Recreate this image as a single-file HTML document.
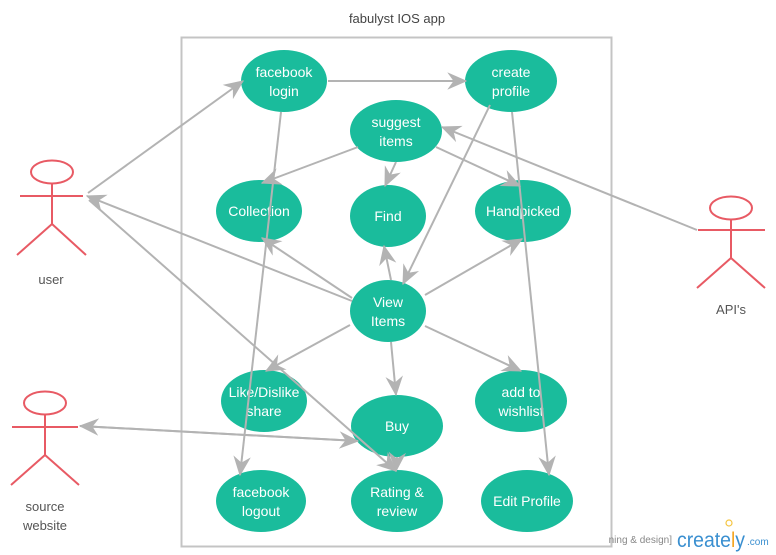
<!DOCTYPE html>
<html><head><meta charset="utf-8"><style>
html,body{margin:0;padding:0;background:#fff;}
svg{display:block;}
text{font-family:"Liberation Sans",sans-serif;}
</style></head><body>
<svg width="776" height="555" viewBox="0 0 776 555" xmlns="http://www.w3.org/2000/svg">
<defs>
<marker id="a" markerUnits="userSpaceOnUse" markerWidth="20" markerHeight="20" viewBox="0 0 16 16" refX="15" refY="8" orient="auto">
<path d="M0,1 L16,8 L0,15 L5,8 z" fill="#b3b3b3"/>
</marker>
</defs>
<text x="397" y="23" font-size="13" fill="#444" text-anchor="middle">fabulyst IOS app</text>
<rect x="181.5" y="37.5" width="430" height="509" fill="none" stroke="#c4c4c4" stroke-width="2"/>

<g fill="#1abc9c">
<ellipse cx="284" cy="81" rx="43" ry="31"/>
<ellipse cx="511" cy="81" rx="46" ry="31"/>
<ellipse cx="396" cy="131" rx="46" ry="31"/>
<ellipse cx="259" cy="211" rx="43" ry="31"/>
<ellipse cx="388" cy="216" rx="38" ry="31"/>
<ellipse cx="523" cy="211" rx="48" ry="31"/>
<ellipse cx="388" cy="311" rx="38" ry="31"/>
<ellipse cx="264" cy="401" rx="43" ry="31"/>
<ellipse cx="521" cy="401" rx="46" ry="31"/>
<ellipse cx="397" cy="426" rx="46" ry="31"/>
<ellipse cx="261" cy="501" rx="45" ry="31"/>
<ellipse cx="397" cy="501" rx="46" ry="31"/>
<ellipse cx="527" cy="501" rx="46" ry="31"/>
</g>
<g fill="#fff" font-size="14" text-anchor="middle">
<text x="284" y="77">facebook</text><text x="284" y="96">login</text>
<text x="511" y="77">create</text><text x="511" y="96">profile</text>
<text x="396" y="127">suggest</text><text x="396" y="146">items</text>
<text x="259" y="216">Collection</text>
<text x="388" y="221">Find</text>
<text x="523" y="216">Handpicked</text>
<text x="388" y="307">View</text><text x="388" y="326">Items</text>
<text x="264" y="397">Like/Dislike</text><text x="264" y="416">share</text>
<text x="521" y="397">add to</text><text x="521" y="416">wishlist</text>
<text x="397" y="431">Buy</text>
<text x="261" y="497">facebook</text><text x="261" y="516">logout</text>
<text x="397" y="497">Rating &amp;</text><text x="397" y="516">review</text>
<text x="527" y="506">Edit Profile</text>
</g>

<g stroke="#b3b3b3" stroke-width="2" fill="none" marker-end="url(#a)">
<line x1="88" y1="193" x2="243" y2="81"/>
<line x1="328" y1="81" x2="466" y2="81"/>
<line x1="358" y1="147" x2="262" y2="183"/>
<line x1="396" y1="162" x2="385" y2="186"/>
<line x1="436" y1="147" x2="520" y2="186"/>
<line x1="697" y1="230" x2="442" y2="127"/>
<line x1="490" y1="105" x2="403" y2="284"/>
<line x1="512" y1="112" x2="549" y2="475"/>
<line x1="281" y1="112" x2="240" y2="475"/>
<line x1="352" y1="298" x2="262" y2="238"/>
<line x1="352" y1="301" x2="87" y2="196"/>
<line x1="391" y1="280" x2="384" y2="246"/>
<line x1="425" y1="295" x2="522" y2="239"/>
<line x1="350" y1="325" x2="266" y2="371"/>
<line x1="391" y1="342" x2="396" y2="395"/>
<line x1="425" y1="326" x2="521" y2="371"/>
<line x1="89" y1="200" x2="396" y2="471"/>
<line x1="80" y1="426" x2="358" y2="441"/>
<line x1="358" y1="441" x2="80" y2="426"/>
<line x1="397" y1="457" x2="396" y2="471"/>
</g>

<g stroke="#e85a64" stroke-width="2" fill="none">
<ellipse cx="52" cy="172" rx="21" ry="11.5"/>
<line x1="52" y1="184" x2="52" y2="224"/><line x1="20" y1="196" x2="83" y2="196"/>
<line x1="52" y1="224" x2="17" y2="255"/><line x1="52" y1="224" x2="86" y2="255"/>
<ellipse cx="731" cy="208" rx="21" ry="11.5"/>
<line x1="731" y1="220" x2="731" y2="258"/><line x1="698" y1="230" x2="765" y2="230"/>
<line x1="731" y1="258" x2="697" y2="288"/><line x1="731" y1="258" x2="765" y2="288"/>
<ellipse cx="45" cy="403" rx="21" ry="11.5"/>
<line x1="45" y1="415" x2="45" y2="455"/><line x1="12" y1="427" x2="78" y2="427"/>
<line x1="45" y1="455" x2="11" y2="485"/><line x1="45" y1="455" x2="79" y2="485"/>
</g>
<g fill="#555" font-size="13" text-anchor="middle">
<text x="51" y="284">user</text>
<text x="731" y="314">API's</text>
<text x="45" y="511">source</text>
<text x="45" y="530">website</text>
</g>
<text x="672" y="543" font-size="10" fill="#888" text-anchor="end">ning &amp; design]</text>
<text x="677" y="547" font-size="21" fill="#3a8fd0" textLength="68" lengthAdjust="spacingAndGlyphs">creat<tspan fill="#3a8fd0">e</tspan><tspan fill="#f5a623">l</tspan>y</text>
<text x="747" y="545" font-size="10" fill="#3a8fd0">.com</text>
<circle cx="729" cy="523" r="3" fill="none" stroke="#f5c542" stroke-width="1.2"/>
</svg>
</body></html>
